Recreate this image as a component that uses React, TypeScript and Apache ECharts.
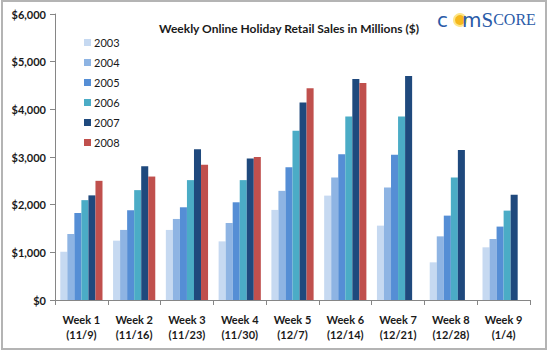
import React, { useEffect, useRef } from "react";
import * as echarts from "echarts";

const categories = [
  "Week 1\n(11/9)",
  "Week 2\n(11/16)",
  "Week 3\n(11/23)",
  "Week 4\n(11/30)",
  "Week 5\n(12/7)",
  "Week 6\n(12/14)",
  "Week 7\n(12/21)",
  "Week 8\n(12/28)",
  "Week 9\n(1/4)",
];

const seriesNames = ["2003", "2004", "2005", "2006", "2007", "2008"];

const values2003 = [1010, 1245, 1470, 1230, 1890, 2190, 1560, 790, 1105];
const values2004 = [1385, 1470, 1700, 1615, 2290, 2570, 2360, 1335, 1280];
const values2005 = [1825, 1885, 1945, 2050, 2785, 3060, 3045, 1770, 1540];
const values2006 = [2095, 2305, 2515, 2515, 3550, 3850, 3850, 2570, 1875];
const values2007 = [2195, 2805, 3165, 2970, 4145, 4635, 4700, 3145, 2210];
const values2008 = [2500, 2590, 2835, 3000, 4440, 4550, null, null, null];

const seriesValues = [values2003, values2004, values2005, values2006, values2007, values2008];
const seriesColors = ["#c6d9f1", "#8eb4e3", "#558ed5", "#4bacc6", "#1f497d", "#c0504d"];

const yTicks = [0, 1000, 2000, 3000, 4000, 5000, 6000];

const FONT = "Lato, 'Open Sans', sans-serif";

export default function App() {
  const ref = useRef<HTMLDivElement>(null);

  useEffect(() => {
    if (!ref.current) return;
    const chart = echarts.init(ref.current, undefined, { renderer: "svg" });
    const option: any = {
      animation: false,
      backgroundColor: "#ffffff",
      title: {
        text: "Weekly Online Holiday Retail Sales in Millions ($)",
        left: 284,
        textAlign: "center",
        top: 17,
        textStyle: { fontFamily: FONT, fontSize: 12, fontWeight: "bold", color: "#1a1a1a" },
      },
      legend: {
        orient: "vertical",
        left: 79,
        top: 31,
        itemWidth: 7,
        itemHeight: 7,
        itemGap: 7,
        icon: "rect",
        data: seriesNames,
        textStyle: { fontFamily: FONT, fontSize: 11, color: "#1a1a1a", lineHeight: 13, padding: [0, 0, 0, -2] },
      },
      grid: { left: 55, right: 20, top: 14, bottom: 53 },
      xAxis: {
        type: "category",
        data: categories,
        axisLine: { lineStyle: { color: "#868686", width: 1 } },
        axisTick: { show: true, alignWithLabel: false, length: 5, lineStyle: { color: "#868686" } },
        axisLabel: {
          fontFamily: FONT,
          fontSize: 11,
          fontWeight: "bold",
          color: "#1a1a1a",
          lineHeight: 15,
          margin: 12,
          interval: 0,
        },
      },
      yAxis: {
        type: "value",
        min: 0,
        max: 6000,
        interval: 1000,
        splitLine: { show: false },
        axisLine: { show: true, lineStyle: { color: "#868686", width: 1 } },
        axisTick: { show: true, length: 5, lineStyle: { color: "#868686" } },
        axisLabel: {
          fontFamily: FONT,
          fontSize: 11,
          fontWeight: "bold",
          color: "#1a1a1a",
          margin: 9,
          formatter: (v: number) => (yTicks.includes(v) ? "$" + v.toLocaleString("en-US") : ""),
        },
      },
      series: seriesNames.map((name, i) => ({
        name,
        type: "bar",
        data: seriesValues[i],
        barGap: "0%",
        barCategoryGap: "20%",
        itemStyle: { color: seriesColors[i] },
      })),
      graphic: [
        {
          type: "rect",
          shape: { x: 2, y: 1, width: 544, height: 348 },
          style: { fill: "none", stroke: "#b4b4b4", lineWidth: 2 },
          silent: true,
        },
        {
          type: "circle",
          shape: { cx: 460, cy: 20, r: 6 },
          style: { fill: "#f5b81c", stroke: "#fde68a", lineWidth: 2 },
        },
        {
          type: "text",
          x: 437,
          y: 9,
          style: {
            text: "{a|c}{sp| }{a|m}{b|S}{c|CORE}",
            rich: {
              a: { fontFamily: "'DejaVu Sans', sans-serif", fontSize: 20, fill: "#2a5ba8", fontWeight: "normal" },
              sp: { fontSize: 20, width: 14 },
              b: { fontFamily: "'Liberation Serif', serif", fontSize: 21, fill: "#2a5ba8" },
              c: { fontFamily: "'Liberation Serif', serif", fontSize: 16, fill: "#2a5ba8" },
            },
          },
        },
      ],
    };
    chart.setOption(option);
    return () => chart.dispose();
  }, []);

  return (
    <div
      ref={ref}
      style={{ position: "fixed", left: 0, top: 0, width: 550, height: 353 }}
    />
  );
}
